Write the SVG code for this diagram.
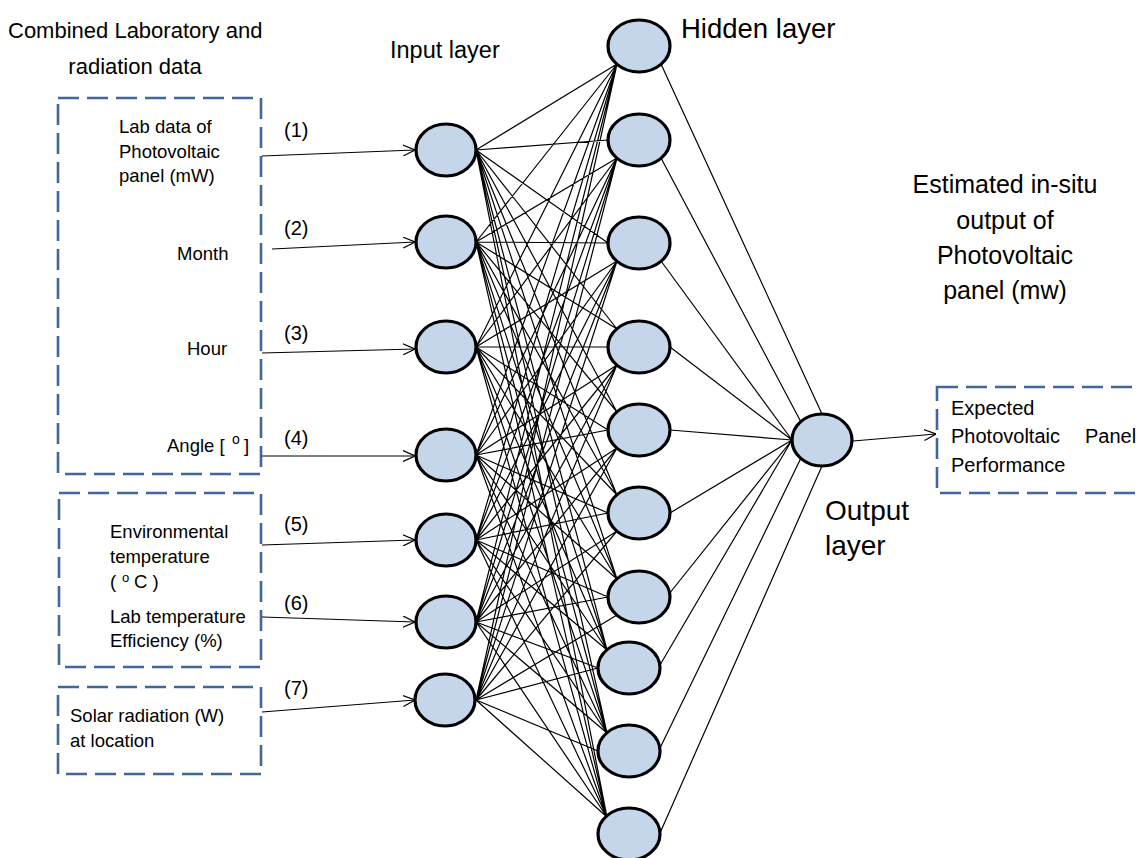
<svg xmlns="http://www.w3.org/2000/svg" width="1140" height="858" viewBox="0 0 1140 858">
<defs>
<marker id="arr" markerUnits="userSpaceOnUse" viewBox="0 0 12 12" refX="12" refY="6" markerWidth="12" markerHeight="12" orient="auto">
<path d="M0,0.5 L12,6 L0,11.5" fill="none" stroke="#000" stroke-width="1.2"/>
</marker>
</defs>
<style>
.t{font-family:"Liberation Sans",Arial,sans-serif;fill:#000}
.s{font-size:18.5px}
.box{fill:none;stroke:#41679a;stroke-width:2.6;stroke-dasharray:21 8}
.n{fill:#c5d5ea;stroke:#000;stroke-width:3.2}
.c{stroke:#000;stroke-width:1.2;fill:none}
.a{stroke:#000;stroke-width:1.2;fill:none;marker-end:url(#arr)}
</style>
<rect width="1140" height="858" fill="#fff"/>

<!-- titles -->
<g id="title-left">
<text class="t" x="8" y="38" font-size="22">Combined Laboratory and</text>
<text class="t" x="135" y="74" font-size="22" text-anchor="middle">radiation data</text>
</g>
<text id="title-input" class="t" x="390" y="58" font-size="23.5">Input layer</text>
<text id="title-hidden" class="t" x="681" y="38" font-size="27.5">Hidden layer</text>
<g id="title-estimated" font-size="25">
<text class="t" x="1005" y="193" text-anchor="middle">Estimated in-situ</text>
<text class="t" x="1005" y="229" text-anchor="middle">output of</text>
<text class="t" x="1005" y="264" text-anchor="middle">Photovoltaic</text>
<text class="t" x="1005" y="299" text-anchor="middle">panel (mw)</text>
</g>
<g id="title-output" font-size="28">
<text class="t" x="825" y="520">Output</text>
<text class="t" x="825" y="555">layer</text>
</g>

<!-- input boxes -->
<g id="box1">
<rect class="box" x="58" y="98" width="203" height="376"/>
<text class="t s" x="119" y="133">Lab data of</text>
<text class="t s" x="119" y="158">Photovoltaic</text>
<text class="t s" x="119" y="182">panel (mW)</text>
<text class="t s" x="177" y="260">Month</text>
<text class="t s" x="187" y="355">Hour</text>
<text class="t s" x="167" y="452">Angle [</text>
<text class="t" x="232" y="444" font-size="14">o</text>
<text class="t s" x="244" y="452">]</text>
</g>
<g id="box2">
<rect class="box" x="59" y="493" width="202" height="174"/>
<text class="t s" x="110" y="538">Environmental</text>
<text class="t s" x="110" y="563">temperature</text>
<text class="t s" x="110" y="588">(</text>
<text class="t" x="122" y="582" font-size="13">o</text>
<text class="t s" x="134" y="588">C )</text>
<text class="t s" x="110" y="623">Lab temperature</text>
<text class="t s" x="110" y="647">Efficiency (%)</text>
</g>
<g id="box3">
<rect class="box" x="58" y="687" width="203" height="87"/>
<text class="t s" x="70" y="722">Solar radiation (W)</text>
<text class="t s" x="70" y="747">at location</text>
</g>
<g id="outbox">
<rect class="box" x="937" y="387" width="220" height="106"/>
<text class="t" font-size="20" x="951" y="415">Expected</text>
<text class="t" font-size="20" x="951" y="443">Photovoltaic</text>
<text class="t" font-size="20" x="1085" y="443">Panel</text>
<text class="t" font-size="20" x="951" y="472">Performance</text>
</g>

<!-- input labels -->
<g id="labels" class="t" font-size="20">
<text x="284" y="137">(1)</text>
<text x="284" y="235">(2)</text>
<text x="284" y="340">(3)</text>
<text x="284" y="445">(4)</text>
<text x="284" y="531">(5)</text>
<text x="284" y="610">(6)</text>
<text x="284" y="695">(7)</text>
</g>

<!-- connectors -->
<g id="connectors">
<line class="a" x1="262" y1="156" x2="415" y2="150"/>
<line class="a" x1="272" y1="249" x2="415" y2="242"/>
<line class="a" x1="262" y1="353" x2="415" y2="349"/>
<line class="a" x1="262" y1="456" x2="415" y2="456"/>
<line class="a" x1="262" y1="545" x2="415" y2="540"/>
<line class="a" x1="262" y1="617" x2="415" y2="622"/>
<line class="a" x1="262" y1="712" x2="415" y2="700"/>
<line class="a" x1="853" y1="441" x2="936" y2="434"/>
<path class="c" d="
M476,150 L617,64 M476,150 L608,140 M476,150 L608,243 M476,150 L617,329 M476,150 L617,412 M476,150 L617,495 M476,150 L617,579 M476,150 L607,650 M476,150 L607,733 M476,150 L607,817
M476,242 L617,64 M476,242 L617,158 M476,242 L608,243 M476,242 L617,329 M476,242 L617,412 M476,242 L617,495 M476,242 L617,579 M476,242 L607,650 M476,242 L607,733 M476,242 L607,817
M476,347 L617,64 M476,347 L617,158 M476,347 L617,261 M476,347 L608,347 M476,347 L608,430 M476,347 L617,495 M476,347 L617,579 M476,347 L607,650 M476,347 L607,733 M476,347 L607,817
M476,455 L617,64 M476,455 L617,158 M476,455 L617,261 M476,455 L617,365 M476,455 L608,430 M476,455 L608,513 M476,455 L617,579 M476,455 L607,650 M476,455 L607,733 M476,455 L607,817
M476,540 L617,64 M476,540 L617,158 M476,540 L617,261 M476,540 L617,365 M476,540 L617,448 M476,540 L608,513 M476,540 L608,597 M476,540 L607,650 M476,540 L607,733 M476,540 L607,817
M476,622 L617,64 M476,622 L617,158 M476,622 L617,261 M476,622 L617,365 M476,622 L617,448 M476,622 L617,531 M476,622 L608,597 M476,622 L598,668 M476,622 L607,733 M476,622 L607,817
M476,700 L617,64 M476,700 L617,158 M476,700 L617,261 M476,700 L617,365 M476,700 L617,448 M476,700 L617,531 M476,700 L617,615 M476,700 L598,668 M476,700 L598,751 M476,700 L607,817
M661,64 L822,414 M661,158 L801,422 M661,261 L792,440 M670,347 L792,440 M670,430 L792,440 M670,513 L792,440 M669,594 L792,440 M660,665 L792,440 M660,748 L801,458 M660,833 L822,466"/>
</g>

<!-- input nodes -->
<g id="in1"><ellipse class="n" cx="446" cy="150" rx="30" ry="26"/></g>
<g id="in2"><ellipse class="n" cx="446" cy="242" rx="30" ry="26"/></g>
<g id="in3"><ellipse class="n" cx="446" cy="347" rx="30" ry="26"/></g>
<g id="in4"><ellipse class="n" cx="446" cy="455" rx="30" ry="26"/></g>
<g id="in5"><ellipse class="n" cx="446" cy="540" rx="30" ry="26"/></g>
<g id="in6"><ellipse class="n" cx="446" cy="622" rx="30" ry="26"/></g>
<g id="in7"><ellipse class="n" cx="445" cy="700" rx="30" ry="26"/></g>

<!-- hidden nodes -->
<g id="h1"><ellipse class="n" cx="639" cy="46" rx="31" ry="26"/></g>
<g id="h2"><ellipse class="n" cx="639" cy="140" rx="31" ry="26"/></g>
<g id="h3"><ellipse class="n" cx="639" cy="243" rx="31" ry="26"/></g>
<g id="h4"><ellipse class="n" cx="639" cy="347" rx="31" ry="26"/></g>
<g id="h5"><ellipse class="n" cx="639" cy="430" rx="31" ry="26"/></g>
<g id="h6"><ellipse class="n" cx="639" cy="513" rx="31" ry="26"/></g>
<g id="h7"><ellipse class="n" cx="639" cy="597" rx="31" ry="26"/></g>
<g id="h8"><ellipse class="n" cx="629" cy="668" rx="31" ry="26"/></g>
<g id="h9"><ellipse class="n" cx="629" cy="751" rx="31" ry="26"/></g>
<g id="h10"><ellipse class="n" cx="629" cy="834" rx="31" ry="26"/></g>

<!-- output node -->
<g id="out"><ellipse class="n" cx="822" cy="440" rx="30" ry="26"/></g>
</svg>
